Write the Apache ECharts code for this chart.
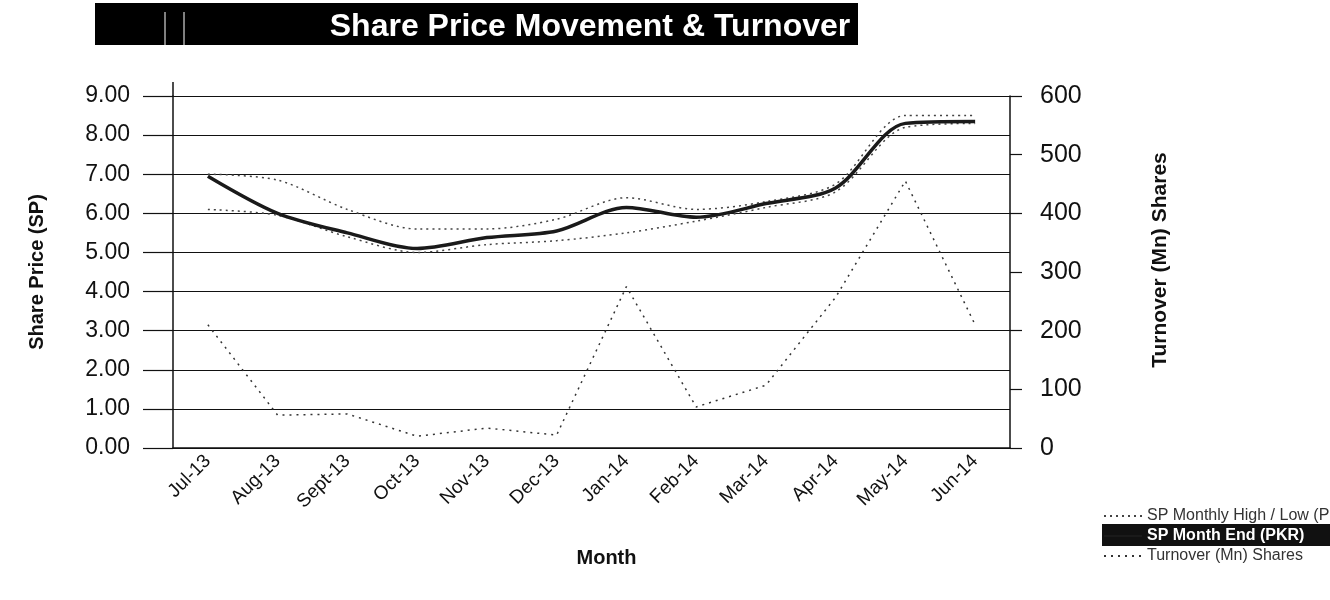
<!DOCTYPE html>
<html>
<head>
<meta charset="utf-8">
<title>Share Price Movement & Turnover</title>
<script src="https://cdn.jsdelivr.net/npm/echarts@6/dist/echarts.min.js"></script>
<style>
  html, body { margin: 0; padding: 0; background: #ffffff; }
  #chart { width: 1330px; height: 600px; }
</style>
</head>
<body>
<div id="chart"></div>
<script>
// Monthly share price (PKR) and turnover (million shares), Jul-13 to Jun-14
const months = ['Jul-13', 'Aug-13', 'Sept-13', 'Oct-13', 'Nov-13', 'Dec-13',
                'Jan-14', 'Feb-14', 'Mar-14', 'Apr-14', 'May-14', 'Jun-14'];
const spHigh     = [7.00, 6.85, 6.10, 5.60, 5.60, 5.85, 6.40, 6.10, 6.30, 6.75, 8.50, 8.50];
const spMonthEnd = [6.95, 6.00, 5.50, 5.10, 5.38, 5.55, 6.15, 5.90, 6.25, 6.65, 8.30, 8.35];
const spLow      = [6.10, 5.95, 5.40, 5.00, 5.20, 5.30, 5.50, 5.80, 6.15, 6.55, 8.20, 8.30];
const turnover   = [210, 56, 58, 20, 34, 22, 275, 70, 107, 257, 455, 210];

const priceTicks = { min: 0, max: 9, interval: 1 };
const turnoverTicks = { min: 0, max: 600, interval: 100 };

const hlName = 'SP Month End (PKR)';
const rangeName = 'SP Monthly High / Low (PKR)';
const volName = 'Turnover (Mn) Shares';

const FONT = '"Liberation Sans", Arial, Helvetica, sans-serif';
const INK = '#111';

const chart = echarts.init(document.getElementById('chart'), null, { renderer: 'canvas' });

chart.setOption({
  backgroundColor: '#ffffff',
  animation: false,
  title: {
    text: 'Share Price Movement & Turnover',
    left: 585,
    textAlign: 'center',
    top: 6,
    textStyle: { color: '#ffffff', fontFamily: FONT, fontWeight: 'bold', fontSize: 32 }
  },
  graphic: [
    // black banner behind the title
    { type: 'rect', z: 0, shape: { x: 95, y: 3, width: 763, height: 42 }, style: { fill: '#000' } },
    { type: 'line', z: 1, shape: { x1: 165, y1: 12, x2: 165, y2: 45 }, style: { stroke: '#fff', lineWidth: 1 } },
    { type: 'line', z: 1, shape: { x1: 184, y1: 12, x2: 184, y2: 45 }, style: { stroke: '#fff', lineWidth: 1 } },
    // price axis line runs a little above the top grid line
    { type: 'line', z: 5, shape: { x1: 173, y1: 82, x2: 173, y2: 96 }, style: { stroke: INK, lineWidth: 1.5 } },
    // dark band behind the month-end legend entry
    { type: 'rect', z: 0, shape: { x: 1102, y: 524, width: 228, height: 22 }, style: { fill: '#111' } }
  ],
  legend: {
    orient: 'vertical',
    left: 1098,
    top: 503,
    itemGap: 4,
    itemWidth: 38,
    itemHeight: 10,
    itemStyle: { opacity: 0 },
    data: [rangeName, hlName, volName],
    textStyle: {
      fontFamily: FONT, fontSize: 16, color: '#333',
      rich: { hl: { color: '#ffffff', fontFamily: FONT, fontSize: 16, fontWeight: 'bold' } }
    },
    formatter: name => name === hlName ? '{hl|' + name + '}' : name
  },
  grid: { left: 173, right: 320, top: 96, bottom: 152, containLabel: false },
  xAxis: {
    type: 'category',
    data: months,
    boundaryGap: true,
    name: 'Month',
    nameLocation: 'middle',
    nameGap: 100,
    nameTextStyle: { fontFamily: FONT, fontWeight: 'bold', fontSize: 20, color: INK, padding: [0, 0, 0, 30] },
    axisLine: { lineStyle: { color: INK, width: 1.5 } },
    axisTick: { show: false },
    axisLabel: { rotate: 45, margin: 10, interval: 0, fontFamily: FONT, fontSize: 19, color: INK }
  },
  yAxis: [
    {
      type: 'value',
      position: 'left',
      min: priceTicks.min, max: priceTicks.max, interval: priceTicks.interval,
      name: 'Share Price (SP)',
      nameLocation: 'middle',
      nameRotate: 90,
      nameGap: 126,
      nameTextStyle: { fontFamily: FONT, fontWeight: 'bold', fontSize: 20, color: INK },
      axisLine: { show: true, lineStyle: { color: INK, width: 1.5 } },
      axisTick: { show: true, inside: false, length: 30, lineStyle: { color: INK, width: 1.2 } },
      axisLabel: { margin: 43, fontFamily: FONT, fontSize: 23, color: INK, formatter: v => v.toFixed(2) },
      splitLine: { show: true, lineStyle: { color: INK, width: 1.2 } }
    },
    {
      type: 'value',
      position: 'right',
      min: turnoverTicks.min, max: turnoverTicks.max, interval: turnoverTicks.interval,
      name: volName,
      nameLocation: 'middle',
      nameRotate: 90,
      nameGap: 140,
      nameTextStyle: { fontFamily: FONT, fontWeight: 'bold', fontSize: 21, color: INK, padding: [0, 0, 0, 24] },
      axisLine: { show: true, lineStyle: { color: INK, width: 1.5 } },
      axisTick: { show: true, inside: false, length: 12, lineStyle: { color: INK, width: 1.2 } },
      axisLabel: { margin: 30, fontFamily: FONT, fontSize: 25, color: INK },
      splitLine: { show: false }
    }
  ],
  series: [
    {
      name: rangeName, type: 'line', yAxisIndex: 0, data: spHigh,
      symbol: 'none', smooth: 0.3, z: 3, color: '#444',
      lineStyle: { color: '#444', width: 1.5, type: [2, 4] }
    },
    {
      name: rangeName, type: 'line', yAxisIndex: 0, data: spLow,
      symbol: 'none', smooth: 0.3, z: 3, color: '#444',
      lineStyle: { color: '#444', width: 1.5, type: [2, 4] }
    },
    {
      name: hlName, type: 'line', yAxisIndex: 0, data: spMonthEnd,
      symbol: 'none', smooth: 0.3, z: 4, color: '#1a1a1a',
      lineStyle: { color: '#1a1a1a', width: 3.5 }
    },
    {
      name: volName, type: 'line', yAxisIndex: 1, data: turnover,
      symbol: 'none', smooth: false, z: 3, color: '#333',
      lineStyle: { color: '#333', width: 1.5, type: [2, 5] }
    }
  ]
});
</script>
</body>
</html>
